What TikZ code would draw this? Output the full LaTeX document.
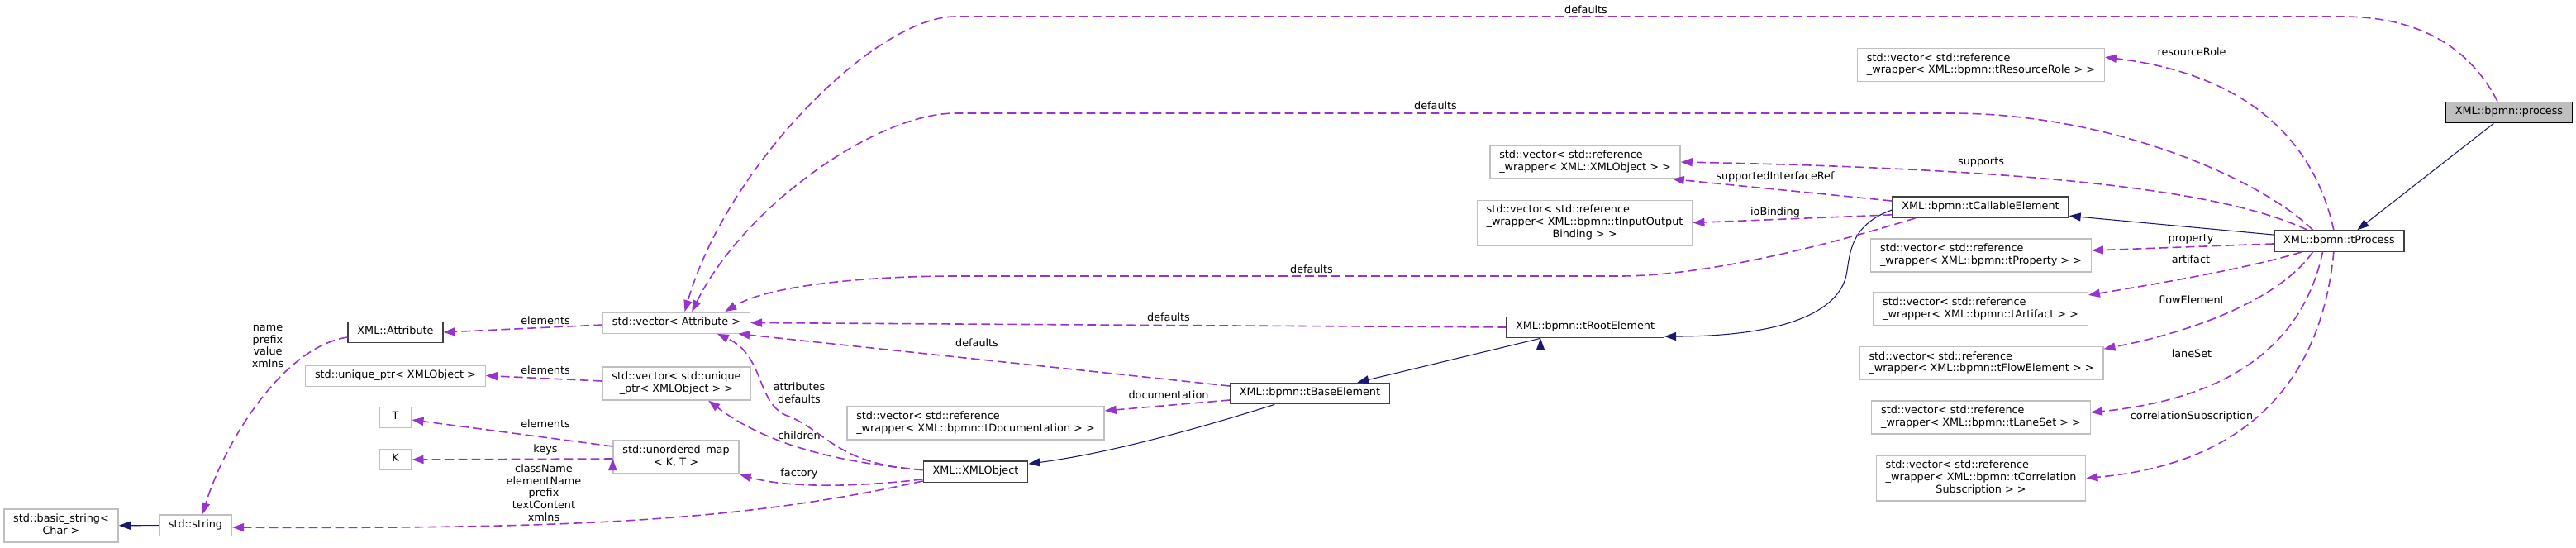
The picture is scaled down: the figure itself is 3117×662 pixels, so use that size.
\documentclass[tikz,border=0pt]{standalone}
\usepackage{fontspec}
\setmainfont{DejaVu Sans}
\usetikzlibrary{arrows.meta}

\definecolor{usecol}{HTML}{9A32CD}
\definecolor{inhcol}{HTML}{191970}
\definecolor{extcol}{HTML}{BFBFBF}
\definecolor{clscol}{HTML}{404040}

\newcommand{\twolbl}[2]{\begin{tabular}{@{}l@{}}#1\\\multicolumn{1}{@{}c@{}}{#2}\end{tabular}}
\newcommand{\threelbl}[3]{\begin{tabular}{@{}l@{}}#1\\#2\\\multicolumn{1}{@{}c@{}}{#3}\end{tabular}}

\tikzset{
  box/.style={rectangle, draw, fill=white, line width=1pt, inner xsep=8.5pt, inner ysep=4pt},
  cls/.style={box, draw=clscol, text height=7.7pt, text depth=3.3pt},
  ext/.style={box, draw=extcol, text height=7.7pt, text depth=3.3pt},
  extm/.style={box, draw=extcol},
  rootcls/.style={cls, draw=black, fill=extcol},
  use/.style={->, usecol, line width=1.2pt, dash pattern=on 8pt off 4pt},
  inh/.style={->, inhcol, line width=0.8pt},
  lbl/.style={inner sep=0pt, align=center},
  >={Triangle[length=10.5pt,width=7.5pt]}
}

\begin{document}
\begin{tikzpicture}[x=0.75pt,y=-0.75pt,font=\fontsize{9.6}{11}\selectfont]
\useasboundingbox (0,0) rectangle (3117,662);

% classes
\node[rootcls] (process) at (3036,136) {XML::bpmn::process};
\node[cls] (tprocess) at (2830.5,291.5) {XML::bpmn::tProcess};
\node[cls] (tcallable) at (2396.5,250.5) {XML::bpmn::tCallableElement};
\node[cls] (troot) at (1918,396) {XML::bpmn::tRootElement};
\node[cls] (tbase) at (1585,476) {XML::bpmn::tBaseElement};
\node[cls] (xmlobject) at (1180.5,570.5) {XML::XMLObject};
\node[cls] (attribute) at (478.5,402) {XML::Attribute};

% member types
\node[extm] (resrole) at (2397,78.5) {\twolbl{std::vector< std::reference}{\_wrapper< XML::bpmn::tResourceRole > >}};
\node[extm] (vecxmlobj) at (1918,196) {\twolbl{std::vector< std::reference}{\_wrapper< XML::XMLObject > >}};
\node[extm] (iobind) at (1917.5,269.5) {\threelbl{std::vector< std::reference}{\_wrapper< XML::bpmn::tInputOutput}{Binding > >}};
\node[extm] (property) at (2397,309) {\twolbl{std::vector< std::reference}{\_wrapper< XML::bpmn::tProperty > >}};
\node[extm] (artifact) at (2396.5,374) {\twolbl{std::vector< std::reference}{\_wrapper< XML::bpmn::tArtifact > >}};
\node[extm] (flowel) at (2397.5,439.5) {\twolbl{std::vector< std::reference}{\_wrapper< XML::bpmn::tFlowElement > >}};
\node[extm] (laneset) at (2397,505) {\twolbl{std::vector< std::reference}{\_wrapper< XML::bpmn::tLaneSet > >}};
\node[extm] (corrsub) at (2397,578.5) {\threelbl{std::vector< std::reference}{\_wrapper< XML::bpmn::tCorrelation}{Subscription > >}};
\node[extm] (docvec) at (1180.5,512) {\twolbl{std::vector< std::reference}{\_wrapper< XML::bpmn::tDocumentation > >}};
\node[ext] (vecattr) at (818.5,390.5) {std::vector< Attribute >};
\node[extm] (vecunique) at (818.5,464) {\twolbl{std::vector< std::unique}{\_ptr< XMLObject > >}};
\node[extm] (umap) at (818,553) {\twolbl{std::unordered\_map}{< K, T >}};
\node[ext] (uniqueptr) at (478.5,454.5) {std::unique\_ptr< XMLObject >};
\node[ext, minimum width=29pt] (tnode) at (478.5,505) {T};
\node[ext, minimum width=29pt] (knode) at (478.5,556) {K};
\node[ext] (stdstring) at (236.5,635.5) {std::string};
\node[extm] (basicstr) at (74,636) {\twolbl{std::basic\_string<}{Char >}};

% edge labels
\node[lbl] (ldefproc) at (1919,12) {defaults};
\node[lbl] (ldeftproc) at (1737,128) {defaults};
\node[lbl] (ldefcall) at (1587,326) {defaults};
\node[lbl] (ldefroot) at (1414,384) {defaults};
\node[lbl] (ldefbase) at (1182,415) {defaults};
\node[lbl] (ldoc) at (1414,478) {documentation};
\node[lbl] (lattr) at (967,475) {attributes\\defaults};
\node[lbl] (lchild) at (967,527) {children};
\node[lbl] (lfact) at (967,573) {factory};
\node[lbl] (lelem1) at (660,388) {elements};
\node[lbl] (lelem2) at (660,448) {elements};
\node[lbl] (lelem3) at (660,513) {elements};
\node[lbl] (lkeys) at (660,544) {keys};
\node[lbl] (lstrobj) at (658,596) {className\\elementName\\prefix\\textContent\\xmlns};
\node[lbl] (lstrattr) at (324,419) {name\\prefix\\value\\xmlns};
\node[lbl] (lres) at (2652,63) {resourceRole};
\node[lbl] (lsup) at (2397,196) {supports};
\node[lbl] (lsir) at (2148,214) {supportedInterfaceRef};
\node[lbl] (lio) at (2148,257) {ioBinding};
\node[lbl] (lprop) at (2651,289) {property};
\node[lbl] (lart) at (2651,314) {artifact};
\node[lbl] (lflow) at (2652,363) {flowElement};
\node[lbl] (llane) at (2652,428) {laneSet};
\node[lbl] (lcorr) at (2652,504) {correlationSubscription};

% inheritance
\draw[inh]
  ([xshift=-14pt]process.south) edge ([xshift=16.5pt]tprocess.north)
  ([yshift=5.6pt]tprocess.west) edge ([yshift=-8pt]tcallable.east)
  ([xshift=-40.5pt]troot.south) edge ([xshift=43pt]tbase.north)
  (stdstring) edge (basicstr);
\draw[inh] ([yshift=-2.6pt]tcallable.west) .. controls (2230,275) and (2240,320) .. (2232,340)
  .. controls (2215,385) and (2140,407) .. ([yshift=-8.25pt]troot.east);
\draw[inh] ([xshift=-32pt]tbase.south) .. controls (1430,525) and (1330,550) .. ([yshift=7pt]xmlobject.east);

% usage
\draw[use] ([xshift=-10.5pt]process.north) .. controls (2990,60) and (2930,20) .. (2834,20)
  -- (1156,20) .. controls (1060,20) and (880,200) .. ([xshift=7.5pt]vecattr.north);
\draw[use] ([xshift=-24pt]tprocess.north) .. controls (2740,220) and (2560,137) .. (2360,137)
  -- (1156,137) .. controls (1060,137) and (900,250) .. ([xshift=14pt]vecattr.north);
\draw[use] ([xshift=-59pt]tcallable.south) .. controls (2200,300) and (2060,334) .. (1959,334)
  -- (1156,334) .. controls (1050,334) and (930,345) .. ([xshift=44pt]vecattr.north);
\draw[use] ([xshift=-5pt]tprocess.north) .. controls (2800,170) and (2720,90) .. ([yshift=7pt]resrole.east);
\draw[use] ([xshift=-29pt]tprocess.north) .. controls (2700,235) and (2500,205) .. (vecxmlobj.east);
\draw[use] ([xshift=-34pt]tprocess.south) .. controls (2720,325) and (2600,345) .. ([yshift=12.75pt]artifact.east);
\draw[use] ([xshift=-24pt]tprocess.south) .. controls (2760,360) and (2660,400) .. ([yshift=13pt]flowel.east);
\draw[use] ([xshift=-15pt]tprocess.south) .. controls (2790,400) and (2720,480) .. ([yshift=4.5pt]laneset.east);
\draw[use] ([xshift=-5pt]tprocess.south) .. controls (2810,450) and (2730,560) .. (corrsub.east);
\draw[use] ([yshift=1.5pt]xmlobject.west) .. controls (1010,562) and (1000,520) .. (950,502)
  .. controls (915,485) and (925,430) .. ([xshift=37pt]vecattr.south);
\draw[use] ([yshift=1.5pt]xmlobject.west) .. controls (1020,560) and (930,540) .. ([xshift=29pt]vecunique.south);
\draw[use] ([yshift=-7pt]xmlobject.west) .. controls (1030,590) and (950,590) .. (umap.south east);
\draw[use] ([yshift=-8.6pt]xmlobject.west) .. controls (900,630) and (700,640) .. ([yshift=-1.9pt]stdstring.east);
\draw[use] ([yshift=-4.5pt]attribute.west) .. controls (340,420) and (270,540) .. ([xshift=6.4pt]stdstring.north);
\draw[use]
  ([yshift=-2.6pt]tprocess.west) edge ([yshift=4.5pt]property.east)
  ([yshift=5.6pt]tcallable.west) edge ([xshift=-7.5pt]vecxmlobj.south east)
  ([yshift=-7pt]tcallable.west) edge (iobind.east)
  (troot.west) edge (vecattr.east)
  ([yshift=6.75pt]tbase.west) edge ([xshift=56pt]vecattr.south)
  ([yshift=-6pt]tbase.west) edge ([yshift=11.25pt]docvec.east)
  ([yshift=-1.9pt]vecattr.west) edge (attribute.east)
  ([yshift=2.25pt]vecunique.west) edge (uniqueptr.east)
  ([yshift=9.75pt]umap.west) edge ([yshift=-2.25pt]tnode.east)
  ([yshift=-1.5pt]umap.west) edge (knode.east);
\end{tikzpicture}
\end{document}
